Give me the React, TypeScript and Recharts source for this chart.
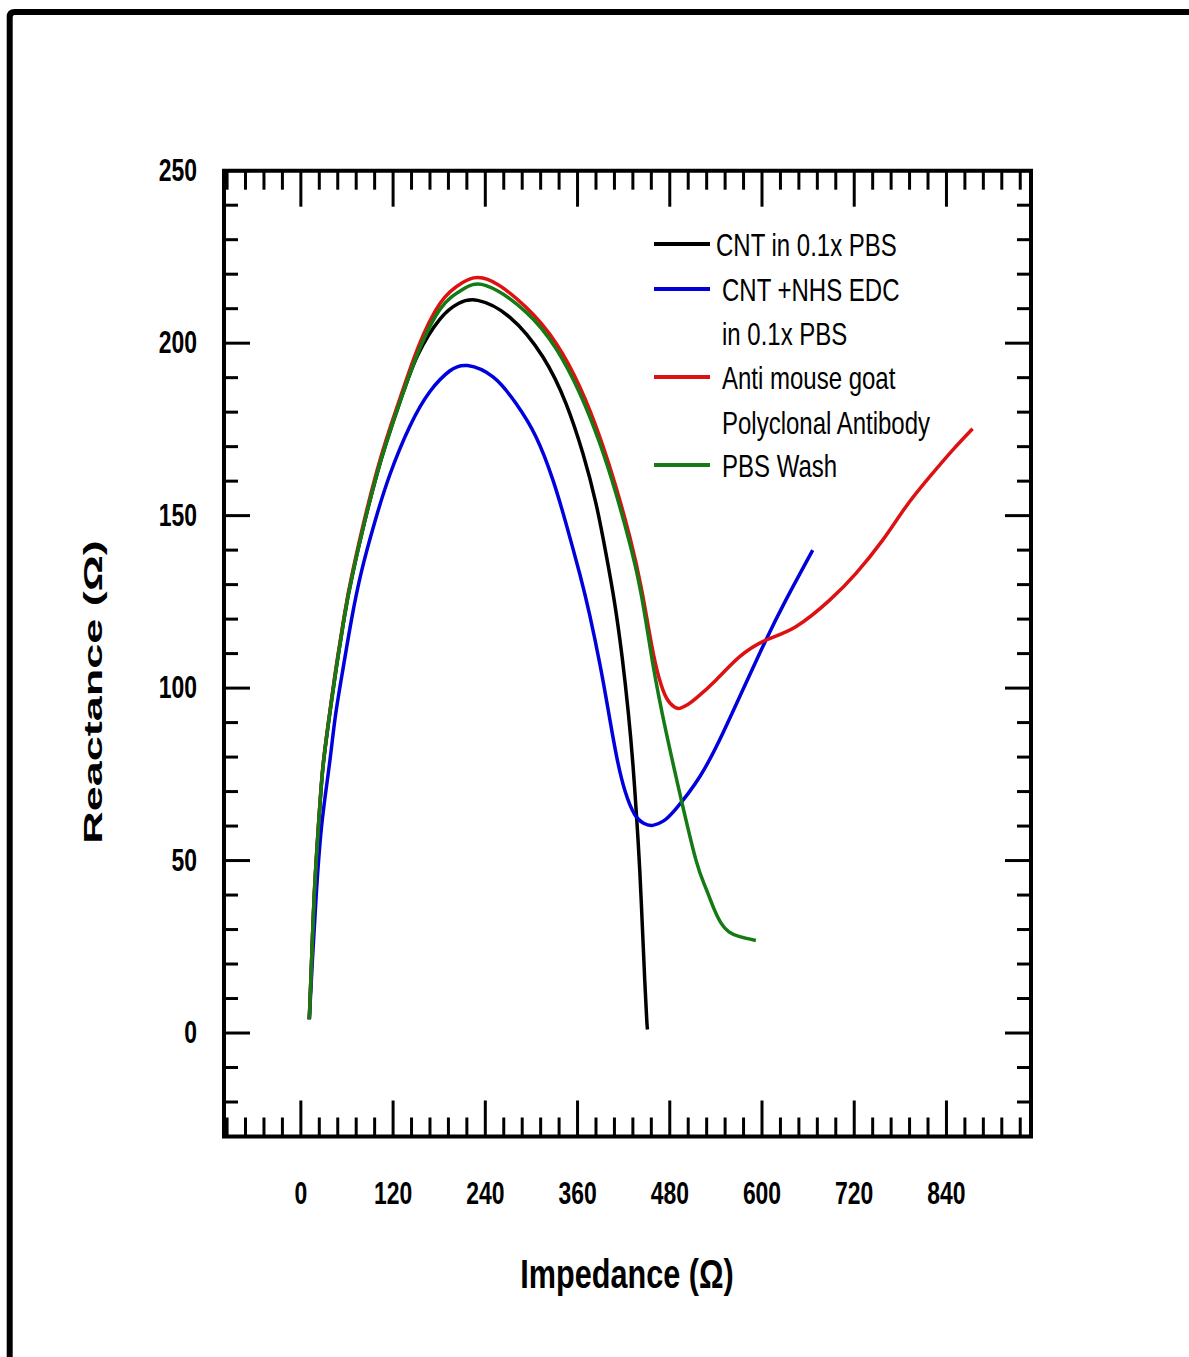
import React from 'react'
import { LineChart, Line, XAxis, YAxis, ReferenceArea } from 'recharts'

const W = 1189
const H = 1357
const FONT = "'Liberation Sans', Arial, sans-serif"

// CNT in 0.1x PBS (black)
const cntX = [11, 14, 18, 24, 29, 37, 46, 56, 68, 99, 129, 152, 181, 205, 230, 272, 315, 345, 367, 384, 397, 408, 418, 426, 432, 437, 441, 444.5, 447.5, 450, 451]
const cntY = [4, 21, 42, 63.5, 77.6, 91.6, 105.7, 119.8, 133.8, 162, 183, 196.5, 207, 211.5, 212.4, 207.5, 196, 182.5, 168, 153.5, 139, 125, 109, 93, 78, 62, 47, 30, 15, 4, 1]

// CNT +NHS EDC in 0.1x PBS (blue)
const nhsX = [11, 15, 20, 27, 37, 45, 55, 66, 79, 96, 116, 142, 168, 194, 217, 250, 280, 306, 328, 345, 363, 376, 389, 400, 411, 422, 434, 446, 458, 472, 488, 519, 549, 579, 605, 631, 666]
const nhsY = [4, 21, 40, 60, 77.6, 92, 105.8, 120, 133.9, 148, 162, 176, 186, 192, 193.5, 190.2, 182.5, 172.8, 160.3, 147.7, 133, 121, 107, 93.5, 80, 70, 63.5, 60.8, 60.2, 61.5, 65, 74.3, 86.9, 101.4, 113.9, 125.5, 140]

// Anti mouse goat Polyclonal Antibody (red)
const abX = [11, 14, 18, 24, 29, 37, 46, 56, 68, 99, 129, 152, 181, 210, 243, 293, 332, 363, 389, 410, 428, 443, 456, 466, 476, 486, 494, 504, 514, 540, 571, 605, 644, 688, 722, 757, 787, 818, 848, 874]
const abY = [4, 21.3, 42.8, 64, 78, 92, 106.3, 120.4, 134.5, 163, 184, 198.5, 211.5, 217.5, 218.5, 210.4, 200, 187.3, 172.8, 158.3, 143.8, 129, 113, 103, 97, 94.5, 94.2, 95.3, 97, 102.3, 109.1, 113.9, 117.8, 125.5, 133.2, 142.9, 152.5, 161.2, 169, 175.2]

// PBS Wash (green)
const washX = [11, 14, 18, 24, 29, 37, 46, 56, 68, 99, 129, 152, 181, 210, 241, 293, 332, 363, 389, 410, 428, 443, 458, 475, 495, 514, 526, 537, 547, 557, 570, 592]
const washY = [4, 21, 42.4, 63.5, 77.6, 91.6, 105.7, 119.8, 133.8, 162, 183, 197, 209.8, 215.5, 216.7, 209, 198.4, 185.4, 170.9, 156.4, 141.9, 127, 107, 87.5, 67.6, 50.2, 42.5, 36.3, 31.8, 29.3, 28, 26.8]

const xLabels = [0, 120, 240, 360, 480, 600, 720, 840]
const yLabels = [0, 50, 100, 150, 200, 250]

const legendRows = [
  { color: '#000000', text: 'CNT in 0.1x PBS' },
  { color: '#0000dd', text: 'CNT +NHS EDC' },
  { color: null, text: 'in 0.1x PBS' },
  { color: '#dd1111', text: 'Anti mouse goat' },
  { color: null, text: 'Polyclonal Antibody' },
  { color: '#147a14', text: 'PBS Wash' },
]

const toPoints = (xs: number[], ys: number[]) => xs.map((x, i) => ({ x, y: ys[i] }))

// minor ticks every 24 on x, every 10 on y
const xTicks: number[] = []
for (let v = -96; v <= 936; v += 24) xTicks.push(v)
const yTicks: number[] = []
for (let v = -20; v <= 250; v += 10) yTicks.push(v)

const labelStyle = { fontFamily: FONT, fontWeight: 700, fontSize: 31, fill: '#000' }

const BottomTick = ({ x, y, payload }: any) => {
  const v = payload.value
  const major = v % 120 === 0
  return (
    <g>
      <line x1={x} x2={x} y1={y} y2={y - (major ? 36 : 19)} stroke="#000" strokeWidth={3} />
      {xLabels.includes(v) && (
        <text transform={`translate(${x},${y + 67}) scale(0.74,1)`} textAnchor="middle" style={labelStyle}>
          {v}
        </text>
      )}
    </g>
  )
}

const TopTick = ({ x, y, payload }: any) => {
  const major = payload.value % 120 === 0
  return <line x1={x} x2={x} y1={y} y2={y + (major ? 36 : 19)} stroke="#000" strokeWidth={3} />
}

const LeftTick = ({ x, y, payload }: any) => {
  const v = payload.value
  const major = v % 50 === 0
  return (
    <g>
      <line x1={x} x2={x + (major ? 26 : 14)} y1={y} y2={y} stroke="#000" strokeWidth={3} />
      {yLabels.includes(v) && (
        <text transform={`translate(${x - 27},${y + 10}) scale(0.74,1)`} textAnchor="end" style={labelStyle}>
          {v}
        </text>
      )}
    </g>
  )
}

const RightTick = ({ x, y, payload }: any) => {
  const major = payload.value % 50 === 0
  return <line x1={x} x2={x - (major ? 26 : 14)} y1={y} y2={y} stroke="#000" strokeWidth={3} />
}

export default function App() {
  return (
    <div style={{ position: 'absolute', left: 0, top: 0, width: W, height: H, background: '#fff' }}>
      <LineChart width={W} height={H} margin={{ top: 169.7, left: 223, right: 157, bottom: 219.5 }}>
        <XAxis xAxisId="b" type="number" dataKey="x" domain={[-100, 950]} ticks={xTicks} interval={0}
          orientation="bottom" height={1} tickSize={0} tickMargin={0} tickLine={false} axisLine={false}
          tick={<BottomTick />} allowDataOverflow />
        <XAxis xAxisId="t" type="number" dataKey="x" domain={[-100, 950]} ticks={xTicks} interval={0}
          orientation="top" height={1} tickSize={0} tickMargin={0} tickLine={false} axisLine={false}
          tick={<TopTick />} allowDataOverflow />
        <YAxis yAxisId="l" type="number" domain={[-30, 250]} ticks={yTicks} interval={0}
          orientation="left" width={1} tickSize={0} tickMargin={0} tickLine={false} axisLine={false}
          tick={<LeftTick />} allowDataOverflow />
        <YAxis yAxisId="r" type="number" domain={[-30, 250]} ticks={yTicks} interval={0}
          orientation="right" width={1} tickSize={0} tickMargin={0} tickLine={false} axisLine={false}
          tick={<RightTick />} allowDataOverflow />
        <Line xAxisId="b" yAxisId="l" data={toPoints(cntX, cntY)} dataKey="y" type="natural"
          stroke="#000000" strokeWidth={3.5} dot={false} isAnimationActive={false} />
        <Line xAxisId="b" yAxisId="l" data={toPoints(nhsX, nhsY)} dataKey="y" type="natural"
          stroke="#0000dd" strokeWidth={3.5} dot={false} isAnimationActive={false} />
        <Line xAxisId="b" yAxisId="l" data={toPoints(abX, abY)} dataKey="y" type="natural"
          stroke="#dd1111" strokeWidth={3.5} dot={false} isAnimationActive={false} />
        <Line xAxisId="b" yAxisId="l" data={toPoints(washX, washY)} dataKey="y" type="natural"
          stroke="#147a14" strokeWidth={3.5} dot={false} isAnimationActive={false} />
        <ReferenceArea xAxisId="b" yAxisId="l" x1={-100} x2={950} y1={-30} y2={250}
          fill="none" fillOpacity={0} stroke="#000" strokeWidth={4} />
      </LineChart>

      {/* frame, axis titles and legend */}
      <svg width={W} height={H} style={{ position: 'absolute', left: 0, top: 0, pointerEvents: 'none' }}>
        <path d="M 9.7 1357 L 9.7 17 Q 9.7 12 14.7 12 L 1189 12" fill="none" stroke="#000" strokeWidth={6} />
        <text transform="translate(627,1288) scale(0.765,1)" textAnchor="middle"
          style={{ fontFamily: FONT, fontWeight: 700, fontSize: 40, fill: '#000' }}>
          Impedance (Ω)
        </text>
        <text transform="translate(102,692) rotate(-90) scale(1,0.56)" textAnchor="middle"
          style={{ fontFamily: FONT, fontWeight: 700, fontSize: 45, fill: '#000' }}>
          Reactance (Ω)
        </text>
        {legendRows.map((r, i) => {
          const cy = [244, 289, 333, 377, 422, 465][i]
          const tx = i === 0 ? 716 : 722
          return (
            <g key={i}>
              {r.color && <line x1={654} x2={710} y1={cy} y2={cy} stroke={r.color} strokeWidth={4} />}
              <text transform={`translate(${tx},${cy + 11.5}) scale(0.75,1)`}
                style={{ fontFamily: FONT, fontSize: 32, fill: '#000' }}>
                {r.text}
              </text>
            </g>
          )
        })}
      </svg>
    </div>
  )
}
